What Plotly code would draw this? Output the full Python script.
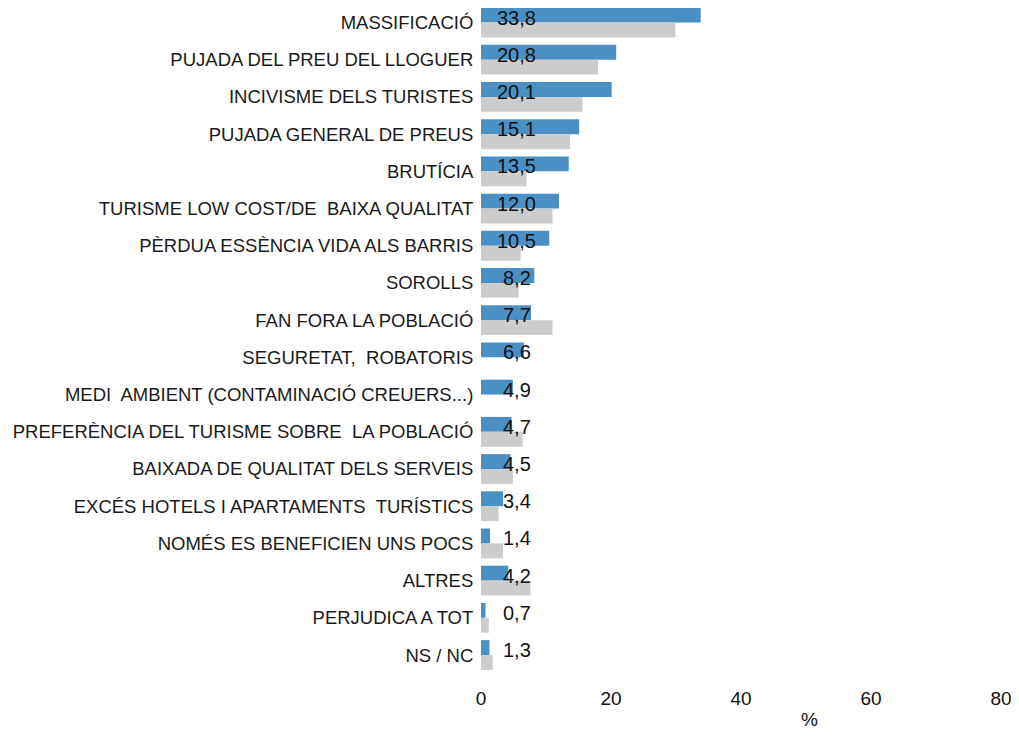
import plotly.graph_objects as go

categories = [
    "MASSIFICACIÓ",
    "PUJADA DEL PREU DEL LLOGUER",
    "INCIVISME DELS TURISTES",
    "PUJADA GENERAL DE PREUS",
    "BRUTÍCIA",
    "TURISME LOW COST/DE  BAIXA QUALITAT",
    "PÈRDUA ESSÈNCIA VIDA ALS BARRIS",
    "SOROLLS",
    "FAN FORA LA POBLACIÓ",
    "SEGURETAT,  ROBATORIS",
    "MEDI  AMBIENT (CONTAMINACIÓ CREUERS...)",
    "PREFERÈNCIA DEL TURISME SOBRE  LA POBLACIÓ",
    "BAIXADA DE QUALITAT DELS SERVEIS",
    "EXCÉS HOTELS I APARTAMENTS  TURÍSTICS",
    "NOMÉS ES BENEFICIEN UNS POCS",
    "ALTRES",
    "PERJUDICA A TOT",
    "NS / NC",
]
current = [33.8, 20.8, 20.1, 15.1, 13.5, 12.0, 10.5, 8.2, 7.7, 6.6, 4.9, 4.7, 4.5, 3.4, 1.4, 4.2, 0.7, 1.3]
previous = [29.9, 18.0, 15.6, 13.7, 7.0, 11.0, 6.1, 5.8, 11.0, None, None, 6.4, 4.9, 2.7, 3.4, 7.6, 1.2, 1.8]
labels = [f"{v:.1f}".replace(".", ",") for v in current]
x_ticks = [0, 20, 40, 60, 80]
LABEL_X = 5.5

FONT = "Liberation Sans, Arial, sans-serif"

fig = go.Figure()
fig.add_trace(go.Bar(y=categories, x=current, orientation="h",
                     marker=dict(color="#4a90c4", line=dict(width=0)), name="actual"))
fig.add_trace(go.Bar(y=categories, x=previous, orientation="h",
                     marker=dict(color="#cccccc", line=dict(width=0)), name="anterior"))

for cat, lab in zip(categories, labels):
    fig.add_annotation(x=LABEL_X, y=cat, text=lab, showarrow=False,
                       xanchor="center", yanchor="middle", yshift=5,
                       font=dict(family=FONT, size=20, color="#111111"))

fig.add_annotation(x=0.632, xref="paper", y=0, yref="paper", text="%", showarrow=False,
                   xanchor="center", yanchor="middle", yshift=-45,
                   font=dict(family=FONT, size=19, color="#111111"))

fig.update_layout(
    width=1003, height=722,
    margin=dict(l=473, r=10, t=0, b=56, autoexpand=False),
    barmode="group", bargap=0.2, bargroupgap=0,
    showlegend=False,
    plot_bgcolor="white", paper_bgcolor="white",
    font=dict(family=FONT, color="#111111"),
)
fig.update_xaxes(range=[0, 80], tickvals=x_ticks, showgrid=False, zeroline=False,
                 showline=False, ticks="outside", ticklen=7, tickcolor="white",
                 ticklabeloverflow="allow",
                 tickfont=dict(size=19, color="#111111"))
fig.update_yaxes(range=[len(categories) - 0.49, -0.39], showgrid=False, showline=False,
                 ticks="outside", ticklen=3, tickcolor="white",
                 tickfont=dict(size=18.5, color="#1a1a1a"))

fig.write_html("out.html")
